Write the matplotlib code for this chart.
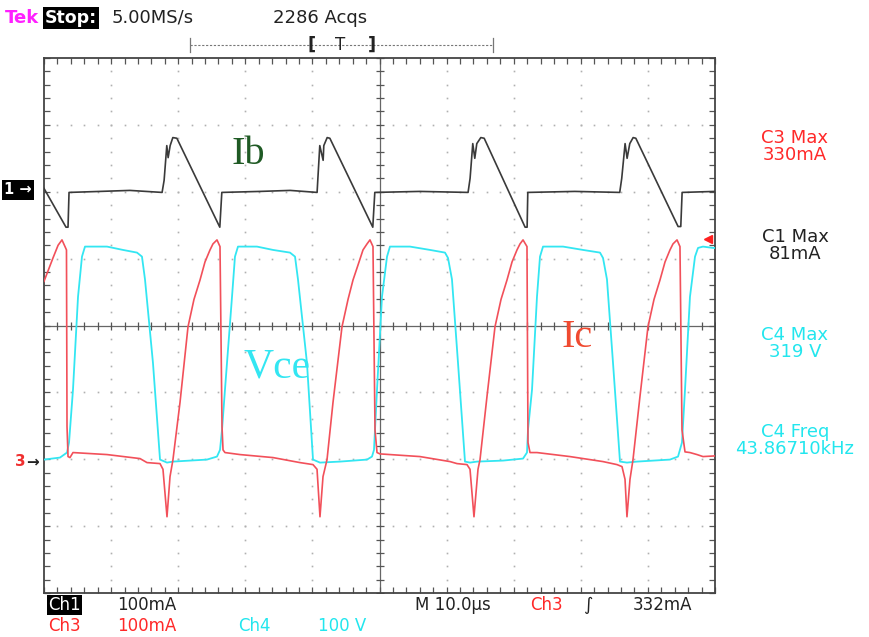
import numpy as np
import matplotlib.pyplot as plt
from matplotlib.lines import Line2D

# time axis in microseconds (10 us/div), values in channel units
ib_t = [0, 3.28, 3.58, 3.73, 8.35, 12.8, 17.6, 17.9, 18.3, 18.5, 18.8, 19.2, 19.8,
        26.2, 26.5, 32.2, 36.7, 40.7, 40.8, 41.1, 41.6, 41.7, 42.2, 42.6,
        49.0, 49.3, 56.0, 63.2, 63.5, 63.9, 64.2, 64.5, 65.1, 65.6,
        71.7, 72.0, 72.1, 79.1, 85.8, 86.1, 86.6, 86.9, 87.3, 87.8, 88.2,
        94.5, 94.9, 95.1, 100]
ib_ma = [3, -55, -55, -3, -1.5, 0, -3, 15, 67, 49, 67, 79, 78,
         -55, -3, -1.5, 0, -3, 15, 67, 45, 67, 79, 78,
         -55, -3, -1.5, -3, 18, 70, 48, 70, 79, 78,
         -55, -55, -3, -1.5, -3, 18, 70, 48, 70, 79, 78,
         -54, -54, -3, -1.5]

ic_t = [0, 1.34, 2.10, 2.68, 3.13, 3.35, 3.43, 3.58, 3.87, 4.32, 9.39,
        14.31, 15.35, 17.29, 17.73, 18.33, 18.78, 19.22, 20.27, 21.46, 22.35, 23.25,
        23.99, 24.74, 25.18, 25.78, 26.23, 26.53, 26.68, 26.97, 29.21, 34.13, 38.15, 40.09,
        40.69, 41.13, 41.58, 42.18, 43.07, 44.41, 45.31, 46.05, 46.95, 47.54, 48.14,
        48.58, 49.03, 49.33, 49.63, 50.07, 56.03, 60.51, 61.55, 63.04, 63.49, 64.08, 64.68,
        64.98, 66.02, 67.21, 68.11, 69.00, 69.75, 70.49, 70.94, 71.39, 71.98, 72.13,
        72.43, 73.47, 78.39, 83.31, 85.39, 86.14, 86.59, 86.88, 87.33, 87.78, 88.82,
        90.01, 90.91, 91.80, 92.55, 93.29, 93.74, 94.34, 94.78, 95.08, 95.53, 96.27,
        97.32, 98.21, 100]
ic_ma = [268, 303, 322, 330, 320, 315, 51, 6, 4.5, 12, 9,
         3, -3, -4.5, -13, -84, -24, 1.5, 87, 200, 241, 270,
         297, 315, 324, 330, 320, 51, 16, 12, 9, 4.5, -3, -6,
         -13, -84, -24, 1.5, 87, 200, 241, 270, 297, 315, 324,
         330, 320, 46, 12, 10, 6, -1.5, -4.5, -6, -13, -84, -13,
         1.5, 96, 200, 241, 270, 297, 315, 324, 330, 320, 27,
         12, 12, 6, -1.5, -6, -9, -28, -84, -28, 1.5, 96,
         200, 241, 270, 297, 315, 324, 330, 320, 46, 13, 12,
         9, 6, 7]

vce_t = [0, 2.38, 3.43, 3.73, 4.32, 5.07, 5.66, 6.11, 9.39, 11.77,
         13.86, 14.60, 15.05, 16.24, 17.29, 18.33, 19.22, 24.29, 25.78, 26.23,
         26.53, 26.97, 28.02, 28.46, 28.91, 31.74, 34.13, 36.66, 37.41, 37.85,
         39.19, 40.09, 41.13, 44.11, 48.14, 48.88, 49.18, 49.63, 50.37, 51.12,
         51.56, 54.54, 57.53, 59.76, 60.21, 60.80, 61.70, 62.74, 63.49, 64.53,
         68.41, 71.39, 71.98, 72.13, 72.73, 73.47, 73.92, 74.37, 77.35, 80.33,
         82.86, 83.31, 83.90, 84.80, 85.84, 86.88, 88.38, 93.29, 94.49, 95.08,
         95.53, 96.27, 97.02, 97.47, 98.21, 99.70, 100]
vce_v = [1.5, 4.5, 12, 27, 106, 245, 305, 320, 320, 315,
         311, 305, 271, 146, 1.5, -3, -1.5, 1.5, 6, 16,
         46, 106, 245, 305, 320, 320, 315, 311, 305, 271,
         146, 1.5, -3, -1.5, 1.5, 6, 16, 106, 245, 305,
         320, 320, 315, 311, 303, 271, 146, -1.5, -3, -1.5,
         0, 3, 12, 46, 106, 245, 305, 320, 320, 315,
         311, 303, 271, 146, -1.5, -3, -1.5, 1.5, 6, 27,
         106, 245, 305, 318, 320, 318, 318]

trig_level = 332  # mA on Ch3

# channel setup: units/div and ground position (div from centre)
ch1_scale, ch1_pos = 100, 2.02
ch3_scale, ch3_pos = 100, -2.02
ch4_scale, ch4_pos = 100, -2.02

W, H = 870, 637
fig = plt.figure(figsize=(W / 100, H / 100), dpi=100)
ax = fig.add_axes([44 / W, 1 - 593 / H, 671 / W, 535 / H])
ax.set_xlim(0, 100)
ax.set_ylim(-4, 4)

# graticule
minor_x = np.arange(0, 100.01, 2)
minor_y = np.arange(-4, 4.001, 0.2)
for xv in range(10, 100, 10):
    if xv != 50:
        ax.plot(np.full(len(minor_y), xv), minor_y, ls='none', marker='s', ms=1.2,
                mec='none', color='#b0b0b0', zorder=1)
for yv in range(-3, 4):
    if yv != 0:
        ax.plot(minor_x, np.full(len(minor_x), yv), ls='none', marker='s', ms=1.2,
                mec='none', color='#b0b0b0', zorder=1)
ax.axhline(0, color='#666666', lw=0.9, zorder=1)
ax.axvline(50, color='#666666', lw=0.9, zorder=1)
ax.plot(minor_x, np.zeros(len(minor_x)), ls='none', marker='|', ms=6, mew=0.9,
        color='#555555', zorder=1)
ax.plot(np.full(len(minor_y), 50), minor_y, ls='none', marker='_', ms=6, mew=0.9,
        color='#555555', zorder=1)

ax.set_xticks(np.arange(0, 101, 10))
ax.set_xticks(minor_x, minor=True)
ax.set_yticks(np.arange(-4, 5, 1))
ax.set_yticks(minor_y, minor=True)
ax.tick_params(which='both', direction='in', top=True, right=True, length=4,
               width=0.9, color='#555555', labelbottom=False, labelleft=False)
for s in ax.spines.values():
    s.set_color('#444444')
    s.set_linewidth(1.3)

# traces
ax.plot(vce_t, np.array(vce_v) / ch4_scale + ch4_pos, color='#33e6f2', lw=1.3, zorder=3)
ax.plot(ic_t, np.array(ic_ma) / ch3_scale + ch3_pos, color='#f2505a', lw=1.2, zorder=4)
ax.plot(ib_t, np.array(ib_ma) / ch1_scale + ch1_pos, color='#3a3a3a', lw=1.2, zorder=5)

# trigger level marker
ax.plot([98.9], [trig_level / ch3_scale + ch3_pos], marker='<', ms=6, color='#ff2020',
        clip_on=False, zorder=6)

# trace labels
ax.text(30.5, 2.55, 'Ib', family='Liberation Serif', fontsize=29, color='#1f5a24',
        ha='center', va='center')
ax.text(34.7, -0.63, 'Vce', family='Liberation Serif', fontsize=30, color='#33e6f2',
        ha='center', va='center')
ax.text(79.5, -0.18, 'Ic', family='Liberation Serif', fontsize=29, color='#f04a30',
        ha='center', va='center')

def ft(x, y, s, **kw):
    fig.text(x / W, 1 - y / H, s, va='center', **kw)

# header
ft(5, 18, 'Tek', color='#ff20ff', fontsize=13, weight='bold')
ft(45, 18, 'Stop:', color='white', fontsize=12.5, weight='bold',
   bbox=dict(facecolor='black', edgecolor='none', pad=1.5))
ft(112, 18, '5.00MS/s', color='#222222', fontsize=13)
ft(273, 18, '2286 Acqs', color='#222222', fontsize=13)
fig.add_artist(Line2D([190 / W, 493 / W], [1 - 45 / H] * 2, color='#777777', lw=0.8,
                      ls=(0, (2, 1.5))))
for xe in (190, 493):
    fig.add_artist(Line2D([xe / W] * 2, [1 - 38 / H, 1 - 52 / H], color='#777777', lw=0.9))
ft(312, 45, '[', color='#222222', fontsize=13, weight='bold', ha='center')
ft(340, 45, 'T', color='#222222', fontsize=12, ha='center')
ft(372, 45, ']', color='#222222', fontsize=13, weight='bold', ha='center')

# channel ground markers
ft(4, 190, '1 →', color='white', fontsize=10.5, weight='bold',
   bbox=dict(facecolor='black', edgecolor='none', pad=1.5))
ft(15, 462, '3', color='#f03030', fontsize=11, weight='bold')
ft(26, 462, '→', color='#222222', fontsize=11, weight='bold')

# measurements
meas = [(138, 'C3 Max', '#ff2828'), (155, '330mA', '#ff2828'),
        (237, 'C1 Max', '#222222'), (254, '81mA', '#222222'),
        (335, 'C4 Max', '#22e6ee'), (352, '319 V', '#22e6ee'),
        (432, 'C4 Freq', '#22e6ee'), (449, '43.86710kHz', '#22e6ee')]
for yy, s, c in meas:
    ft(795, yy, s, color=c, fontsize=13, ha='center')

# bottom readout
narrow = ['Liberation Sans Narrow', 'DejaVu Sans']
ft(48, 605, 'Ch1', color='white', fontsize=12, family=narrow,
   bbox=dict(facecolor='black', edgecolor='none', pad=1.0))
ft(117, 605, '100mA', color='#222222', fontsize=12, family=narrow)
ft(415, 605, 'M 10.0µs', color='#222222', fontsize=12, family=narrow)
ft(530, 605, 'Ch3', color='#ff2828', fontsize=12, family=narrow)
ft(583, 605, '∫', color='#222222', fontsize=13, family=narrow)
ft(633, 605, '332mA', color='#222222', fontsize=12, family=narrow)
ft(48, 626, 'Ch3', color='#ff2828', fontsize=12, family=narrow)
ft(117, 626, '100mA', color='#ff2828', fontsize=12, family=narrow)
ft(238, 626, 'Ch4', color='#22e6ee', fontsize=12, family=narrow)
ft(318, 626, '100 V', color='#22e6ee', fontsize=12, family=narrow)

fig.savefig('out.png', dpi=100, facecolor='white')
